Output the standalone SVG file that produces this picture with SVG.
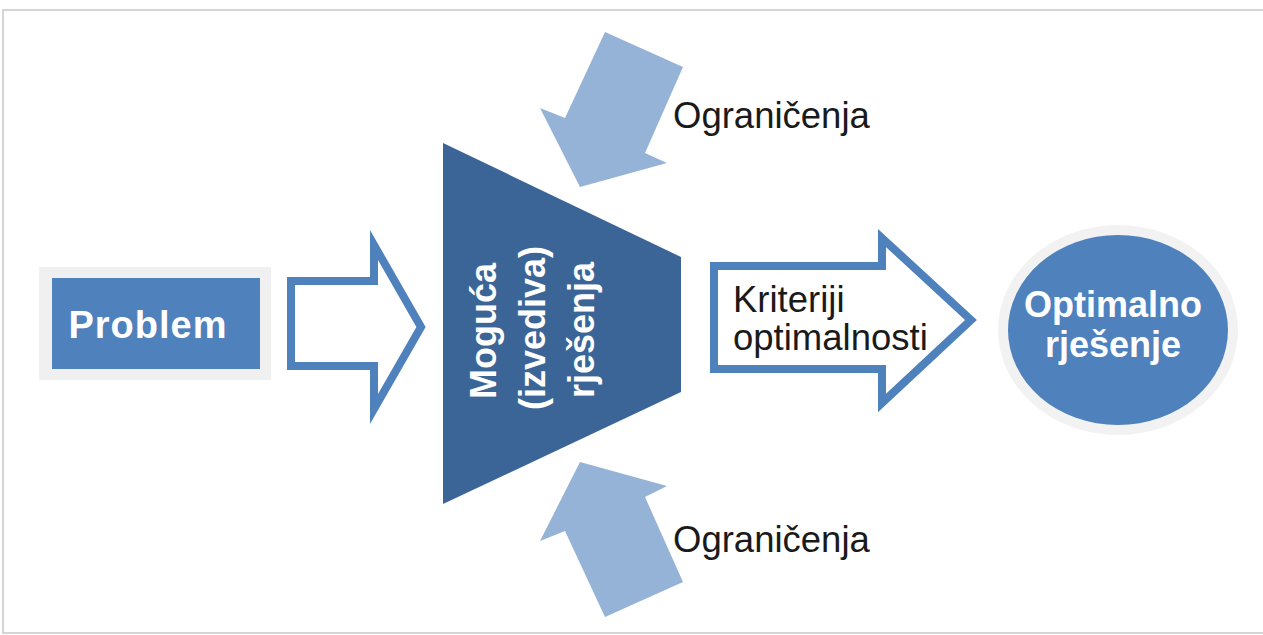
<svg xmlns="http://www.w3.org/2000/svg" width="1263" height="635" viewBox="0 0 1263 635">
<style>
.frame{fill:#ffffff;stroke:#c8c8c8;stroke-width:1.5}
.hollow{fill:#ffffff;stroke:#4f81bd;stroke-width:8;stroke-linejoin:miter;stroke-miterlimit:10}
.light{fill:#95b3d7}
.wb{font-family:"Liberation Sans",Arial,sans-serif;font-weight:bold;fill:#ffffff}
.lbl{font-family:"Liberation Sans",Arial,sans-serif;fill:#1a1a1a;font-size:36.5px}
</style>
<rect x="0" y="0" width="1263" height="635" fill="#ffffff"/>
<rect class="frame" x="3" y="10" width="1262" height="623"/>

<g id="problem">
  <rect x="39" y="267" width="232" height="113" fill="#f0f0f0"/>
  <rect x="52" y="278" width="208" height="91" fill="#4f81bd"/>
  <text class="wb" x="148" y="338" font-size="38" text-anchor="middle" letter-spacing="1">Problem</text>
</g>

<g id="feasible">
  <polygon points="443,143 681,257 681,392 443,504" fill="#3c6597"/>
  <text class="wb" font-size="36" text-anchor="middle" transform="translate(496,331) rotate(-90)">Moguća</text>
  <text class="wb" font-size="36" text-anchor="middle" transform="translate(545,328) rotate(-90)">(izvediva)</text>
  <text class="wb" font-size="36" text-anchor="middle" transform="translate(594,330) rotate(-90)">rješenja</text>
</g>

<g id="constraint-top">
  <polygon class="light" points="605,32 683,67 645,153 667,163 580,187 540,108 565,118"/>
  <text class="lbl" x="673" y="128">Ograničenja</text>
</g>

<g id="constraint-bottom">
  <polygon class="light" points="605,617 683,582 645,497 667,486 580,462 540,541 565,531"/>
  <text class="lbl" x="673" y="552">Ograničenja</text>
</g>

<g id="optimum">
  <ellipse cx="1118" cy="330" rx="120" ry="105" fill="#f2f2f2"/>
  <ellipse cx="1118" cy="330" rx="110" ry="95" fill="#4f81bd"/>
  <text class="wb" font-size="36" text-anchor="middle" x="1113" y="317">Optimalno</text>
  <text class="wb" font-size="36" text-anchor="middle" x="1113" y="357">rješenje</text>
</g>

<g id="connectors">
  <path class="hollow" d="M291,281 H374 V245 L421,327 L374,409 V366 H291 Z"/>
  <path class="hollow" d="M714,266 H882 V238 L971,320 L882,403 V369 H714 Z"/>
  <text class="lbl" x="733" y="312">Kriteriji</text>
  <text class="lbl" x="733" y="350">optimalnosti</text>
</g>
</svg>
